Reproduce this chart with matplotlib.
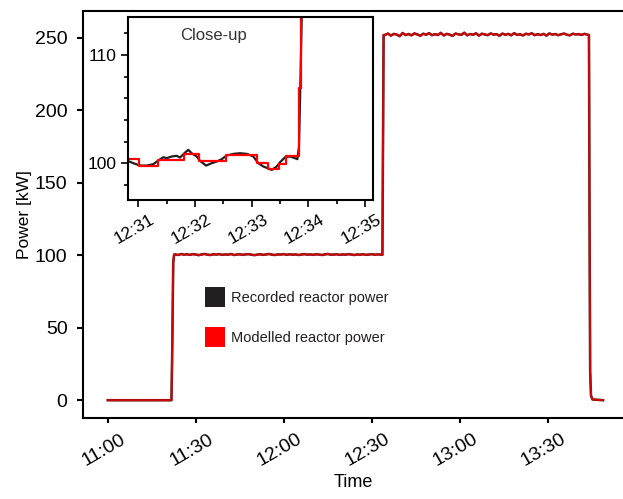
import matplotlib
matplotlib.use("Agg")
import matplotlib.pyplot as plt
from matplotlib.patches import Patch
from matplotlib.ticker import MultipleLocator
from matplotlib.transforms import ScaledTranslation

plt.rcParams['font.family'] = ['Liberation Sans', 'DejaVu Sans']

# ---------------- data ----------------
# main plot: minutes after 11:00
ramp_up_t = [0.0, 21.7, 22.0, 22.3, 22.6]
ramp_up_p = [0.0, 0.0, 40.0, 95.0, 100.5]
plateau100_start = 23.0
plateau100_p = [100.6, 100.2, 100.9, 100.4, 100.7, 100.3, 100.8, 100.5, 100.1, 100.6,
                100.9, 100.4, 100.2, 100.7, 100.5, 100.8, 100.3, 100.6, 100.4, 100.9,
                100.2, 100.5, 100.7, 100.3, 100.6, 100.8, 100.4, 100.1, 100.5, 100.7,
                100.3, 100.6, 100.9, 100.4, 100.2, 100.6, 100.5, 100.8, 100.3, 100.7,
                100.4, 100.6, 100.2, 100.5, 100.8, 100.4, 100.6, 100.3, 100.7, 100.5,
                100.2, 100.6, 100.9, 100.4, 100.5, 100.7, 100.3, 100.6, 100.4, 100.8,
                100.5, 100.2, 100.6, 100.4, 100.7, 100.3, 100.5, 100.8, 100.4, 100.6,
                100.5]
jump_t = [93.6, 93.8, 94.0]
jump_p = [100.3, 180.0, 252.0]
plateau252_start = 94.5
plateau252_p = [252.1, 253.0, 251.6, 252.8, 252.3, 251.2, 253.4, 252.0, 252.7, 251.8,
                253.1, 252.4, 251.5, 252.9, 252.2, 253.3, 251.9, 252.6, 252.0, 253.5,
                251.7, 252.8, 252.3, 251.4, 253.0, 252.5, 252.1, 253.6, 251.8, 252.7,
                252.2, 253.2, 251.6, 252.9, 252.4, 251.9, 253.1, 252.3, 252.6, 251.5,
                253.0, 252.2, 252.8, 251.8, 253.3, 252.1, 252.5, 251.7, 252.9, 252.4,
                253.2, 251.9, 252.6, 252.0, 252.8, 251.6, 253.1, 252.3, 252.7, 251.9,
                252.5, 253.0, 252.2, 251.8, 252.9, 252.4, 252.6, 252.1, 252.8, 252.3]
drop_t = [164.0, 164.15, 164.4, 164.7, 165.2, 168.8]
drop_p = [252.0, 150.0, 20.0, 3.0, 0.5, 0.0]

main_xticks = [0, 30, 60, 90, 120, 150]
main_xticklabels = ['11:00', '11:30', '12:00', '12:30', '13:00', '13:30']
main_yticks = [0, 50, 100, 150, 200, 250]

# inset: minutes after 12:30
rec_t = [0.841, 0.912, 1.030, 1.148, 1.265, 1.353, 1.441, 1.500, 1.589, 1.677,
         1.735, 1.824, 1.882, 1.941, 2.030, 2.088, 2.194, 2.294, 2.383, 2.471,
         2.559, 2.676, 2.794, 2.912, 3.029, 3.117, 3.205, 3.282, 3.353, 3.441,
         3.500, 3.588, 3.676, 3.764, 3.805, 3.834, 3.852, 3.882, 3.95]
rec_p = [100.15, 100.0, 99.78, 99.78, 99.91, 100.25, 100.55, 100.46, 100.62, 100.68,
         100.52, 100.98, 101.23, 100.92, 100.62, 100.22, 99.78, 100.0, 100.15, 100.37,
         100.71, 100.86, 100.92, 100.86, 100.62, 100.0, 99.69, 99.54, 99.38, 99.69,
         100.09, 100.55, 100.62, 100.46, 100.37, 101.54, 105.85, 113.5, 252.0]
mod_t = [0.80, 1.018, 1.353, 1.81, 2.076, 2.547, 3.088, 3.28, 3.48, 3.60, 3.84, 3.87, 3.95]
mod_p = [100.37, 99.78, 100.28, 100.86, 100.18, 100.77, 100.0, 99.45, 99.94, 100.62,
         106.9, 252.0, 252.0]
inset_xticks = [1, 2, 3, 4, 5]
inset_xticklabels = ['12:31', '12:32', '12:33', '12:34', '12:35']
inset_yticks = [100, 110]

# assemble main series
main_t = (ramp_up_t
          + [plateau100_start + i for i in range(len(plateau100_p))]
          + jump_t
          + [plateau252_start + i for i in range(len(plateau252_p))]
          + drop_t)
main_p = ramp_up_p + plateau100_p + jump_p + plateau252_p + drop_p

rec_color = '#231f20'
mod_color = '#ff0000'

fig = plt.figure(figsize=(6.23, 4.99), dpi=100)
ax = fig.add_axes([0.133, 0.162, 0.867, 0.816])
ax.plot(main_t, main_p, color=rec_color, lw=1.8)
ax.plot(main_t, main_p, color=mod_color, lw=1.5, alpha=0.78)
ax.set_xlim(-8.5, 175.6)
ax.set_ylim(-12.4, 268.6)
ax.set_xticks(main_xticks)
ax.set_xticklabels(main_xticklabels, rotation=30, ha='center', fontsize=14)
ax.set_yticks(main_yticks)
ax.tick_params(axis='y', labelsize=14, length=4.5, pad=6.5, width=1.5)
ax.tick_params(axis='x', length=3.8, pad=5.2, width=1.5)
ax.tick_params(direction='out', colors='black')
for s in ['left', 'bottom', 'top']:
    ax.spines[s].set_linewidth(1.5)
ax.spines['right'].set_visible(False)
ax.set_xlabel('Time', fontsize=13, labelpad=3)
ax.set_ylabel('Power [kW]', fontsize=12.5, labelpad=2)
shift = ScaledTranslation(-4 / 100, 0, fig.dpi_scale_trans)
for lbl in ax.get_xticklabels():
    lbl.set_transform(lbl.get_transform() + shift)

handles = [Patch(facecolor=rec_color, edgecolor='none'),
           Patch(facecolor=mod_color, edgecolor='none')]
leg = ax.legend(handles, ['Recorded reactor power', 'Modelled reactor power'],
                loc='upper left', bbox_to_anchor=(205 / 623, 1 - 287 / 499),
                bbox_transform=fig.transFigure, frameon=False, fontsize=10.5,
                handlelength=1.35, handleheight=1.75, handletextpad=0.45,
                labelspacing=1.35, borderpad=0, borderaxespad=0)
for t in leg.get_texts():
    t.set_color('#231f20')

# inset
axi = fig.add_axes([128 / 623, 1 - 200 / 499, 245 / 623, 183 / 499])
axi.plot(rec_t, rec_p, color=rec_color, lw=1.6)
axi.plot(mod_t, mod_p, color=mod_color, lw=1.6, drawstyle='steps-post')
axi.set_xlim(0.818, 5.139)
axi.set_ylim(96.6, 113.5)
axi.set_xticks(inset_xticks)
axi.set_xticklabels(inset_xticklabels, rotation=30, ha='center', fontsize=12.5)
axi.xaxis.set_minor_locator(MultipleLocator(0.5))
axi.set_yticks(inset_yticks)
axi.yaxis.set_minor_locator(MultipleLocator(2))
axi.tick_params(axis='y', labelsize=12.5)
axi.tick_params(which='major', direction='out', length=5, width=1.2)
axi.tick_params(which='minor', direction='out', length=3, width=1.2)
for lbl in axi.get_xticklabels():
    lbl.set_transform(lbl.get_transform() + shift)
for s in axi.spines.values():
    s.set_linewidth(1.5)
axi.text(0.347, 0.90, 'Close-up', transform=axi.transAxes, ha='center', va='center',
         fontsize=12, color='#333333')

fig.savefig('out.png', dpi=100)
